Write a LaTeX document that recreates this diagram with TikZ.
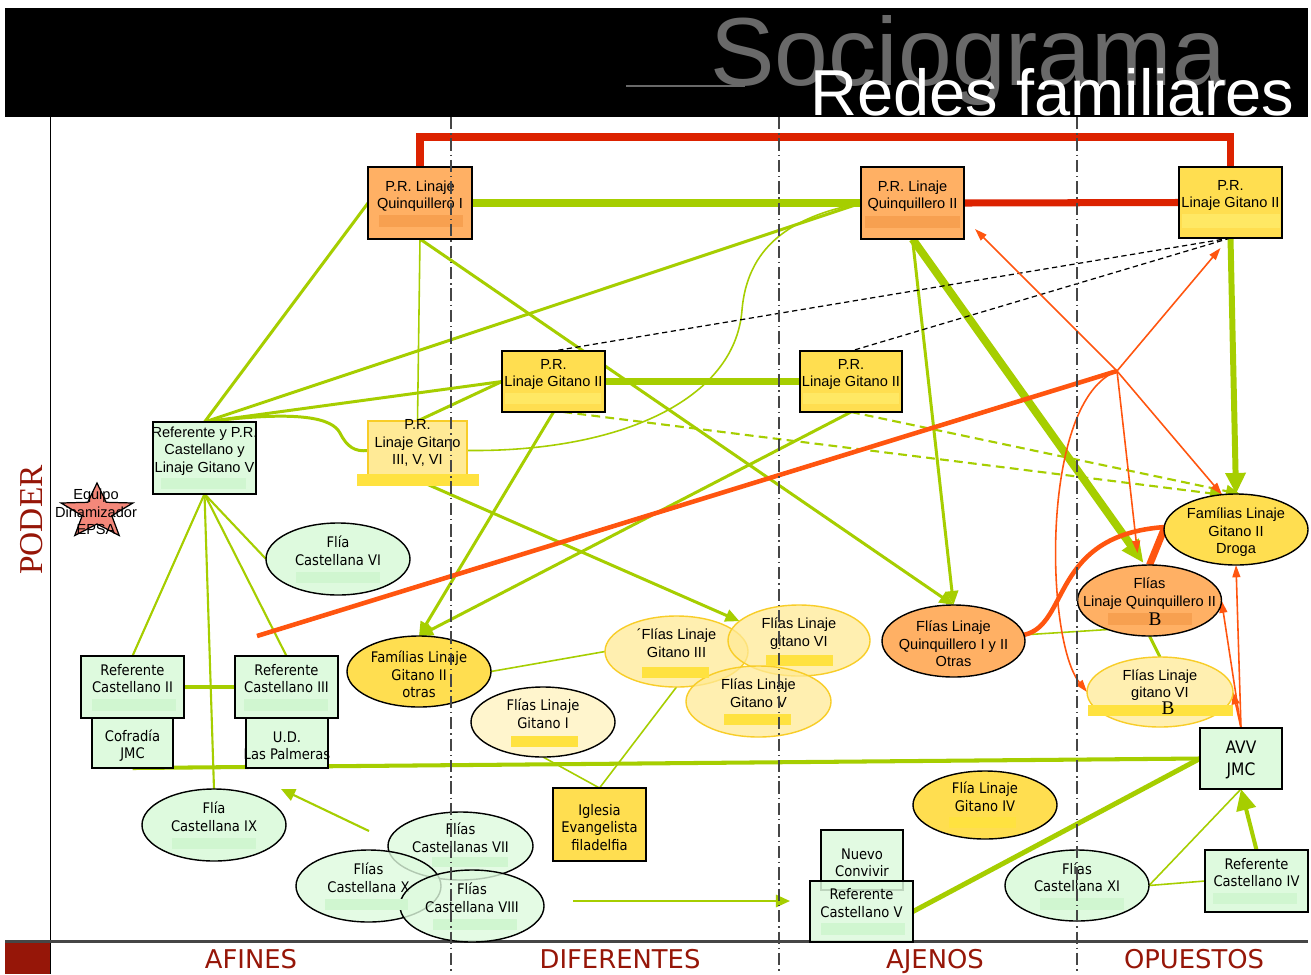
\documentclass[tikz,border=0pt]{standalone}
\usepackage{fontspec}
\setmainfont{Liberation Sans}
\newfontfamily\arialf{Liberation Sans}
\newfontfamily\tahf[FakeStretch=0.9]{DejaVu Sans}
\newfontfamily\dejaf{DejaVu Sans}
\newfontfamily\timesf{Liberation Serif}
\usetikzlibrary{arrows.meta,calc,shapes.geometric}
\pgfdeclarelayer{paper}
\pgfdeclarelayer{links}
\pgfsetlayers{paper,links,main}

\definecolor{lime}{RGB}{166,206,0}
\definecolor{redbar}{RGB}{220,34,0}
\definecolor{oline}{RGB}{255,85,15}
\definecolor{dred}{RGB}{150,22,8}
\definecolor{ofill}{RGB}{255,176,100}
\definecolor{opatch}{RGB}{247,160,80}
\definecolor{yfill}{RGB}{255,222,80}
\definecolor{ypatch}{RGB}{255,232,100}
\definecolor{pyfill}{RGB}{255,234,150}
\definecolor{pyborder}{RGB}{248,205,40}
\definecolor{bpatch}{RGB}{255,226,64}
\definecolor{cfill}{RGB}{255,245,205}
\definecolor{lgreen}{RGB}{222,250,222}
\definecolor{gpatch}{RGB}{208,246,208}
\definecolor{starfill}{RGB}{244,136,122}
\definecolor{titlegray}{RGB}{105,105,105}
\definecolor{axisgray}{RGB}{70,70,70}

% box: name, x1, y1, x2, y2, shape style, text style, text
\newcommand\boxnode[8]{%
  \pgfmathsetmacro\bwd{(#4-#2)*0.02}%
  \pgfmathsetmacro\bht{(#5-#3)*0.02}%
  \node[#6,minimum width=\bwd cm,minimum height=\bht cm] (#1) at ({(#2+#4)/2},{(#3+#5)/2}) {};%
  \node[#7] (#1-t) at (#1.center) {#8};}
% ellipse: name, cx, cy, rx, ry, shape style, text style, text
\newcommand\ellnode[8]{%
  \pgfmathsetmacro\ewd{2*#4*0.02}%
  \pgfmathsetmacro\eht{2*#5*0.02}%
  \node[ellipse,#6,minimum width=\ewd cm,minimum height=\eht cm] (#1) at (#2,#3) {};%
  \node[#7] (#1-t) at (#1.center) {#8};}
% masking strip over a hidden line
\newcommand\patch[5]{\fill[#1] (#2,#3) rectangle (#4,#5);}

\begin{document}
\begin{tikzpicture}[x=0.02cm,y=-0.02cm,
  shp/.style={draw=black,line width=0.8pt,inner sep=0pt,outer sep=0pt},
  obox/.style={shp,rectangle,fill=ofill},
  ybox/.style={shp,rectangle,fill=yfill},
  pybox/.style={shp,rectangle,draw=pyborder,fill=pyfill},
  gbox/.style={shp,rectangle,fill=lgreen},
  gboxt/.style={shp,rectangle,fill=lgreen,fill opacity=0.85},
  oell/.style={shp,fill=ofill},
  yell/.style={shp,fill=yfill},
  pell/.style={shp,draw=pyborder,fill=pyfill,fill opacity=0.75},
  cell/.style={shp,fill=cfill},
  gell/.style={shp,fill=lgreen},
  gellt/.style={shp,fill=lgreen,fill opacity=0.8},
  tA/.style={inner sep=0pt,align=center,yshift=-1.6pt,font=\arialf\fontsize{8.3}{9.9}\selectfont},
  tT/.style={inner sep=0pt,align=center,yshift=-1.6pt,font=\tahf\fontsize{8.3}{9.9}\selectfont},
  tBig/.style={inner sep=0pt,align=center,yshift=-0.8pt,font=\tahf\fontsize{9.8}{12}\selectfont},
  colname/.style={anchor=base,inner sep=0pt,text=dred,font=\dejaf\fontsize{14.7}{14.7}\selectfont},
  gthin/.style={draw=lime,line width=0.9pt},
  glight/.style={draw=lime,line width=1.2pt},
  gmed/.style={draw=lime,line width=1.7pt},
  gbold/.style={draw=lime,line width=2.3pt},
  gheavy/.style={draw=lime,line width=4pt},
  gtip/.style={-{Triangle[length=8pt,width=7pt]}},
  gbigtip/.style={-{Triangle[length=12pt,width=11pt]}},
  redline/.style={draw=redbar,line width=4pt,line join=miter},
  othin/.style={draw=oline,line width=0.9pt,-{Triangle[length=7pt,width=4.5pt]}},
  othick/.style={draw=oline,line width=2.6pt},
  dashdot/.style={draw=axisgray,line width=0.8pt,dash pattern=on 7pt off 2.2pt on 0.8pt off 2.2pt},
  blkdash/.style={draw=black,line width=0.7pt,dash pattern=on 3pt off 2pt},
  gdash/.style={draw=lime,line width=1.2pt,dash pattern=on 5pt off 3pt}]

\useasboundingbox (0,0) rectangle (1311,974);
\begin{pgfonlayer}{paper}
  \fill[white] (0,0) rectangle (1311,974);
\end{pgfonlayer}

% header band and title
\fill[black] (5,8) rectangle (1308,117);
\draw[titlegray,line width=1pt] (626,86) -- (745,86);
\node[anchor=base west,inner sep=0pt,text=titlegray,font=\arialf\fontsize{55}{55}\selectfont] (ttl) at (710,85) {Sociograma};
\node[anchor=base west,inner sep=0pt,text=white,font=\arialf\fontsize{37}{37}\selectfont] (sub) at (810,115) {Redes familiares};

% axes
\fill[dred] (5,941) rectangle (50,974);
\draw[black,line width=0.9pt] (50.5,117) -- (50.5,974);
\draw[axisgray,line width=1.3pt] (5,941.5) -- (1308,941.5);
\node[rotate=90,inner sep=0pt,text=dred,font=\timesf\fontsize{19}{19}\selectfont] (poder) at (32,520) {PODER};
\node[colname] (afines) at (251,968.5) {AFINES};
\node[colname] (difer) at (620,968.5) {DIFERENTES};
\node[colname] (ajenos) at (935,968.5) {AJENOS};
\node[colname] (opuest) at (1194,968.5) {OPUESTOS};

% star
\filldraw[fill=starfill,draw=black,line width=0.7pt] (97,483) -- (87.8,502.3) -- (61.1,503) -- (82.2,515.7) -- (74.8,535.5) -- (97,524) -- (119.2,535.5) -- (111.8,515.7) -- (132.9,503) -- (106.2,502.3) -- cycle;
\node[tA,yshift=1pt] (epsa) at (96,511) {Equipo\\Dinamizador\\EPSA};

% boxes
\boxnode{prq1}{368}{167}{472}{239}{obox}{tA}{P.R. Linaje\\Quinquillero I\\\strut}
\boxnode{prq2}{861}{167}{964}{239}{obox}{tA}{P.R. Linaje\\Quinquillero II\\\strut}
\boxnode{prg2t}{1179}{167}{1282}{238}{ybox}{tA}{P.R.\\Linaje Gitano II\\\strut}
\boxnode{prg2a}{502}{351}{605}{412}{ybox}{tA}{P.R.\\Linaje Gitano II\\\strut}
\boxnode{prg2b}{800}{351}{902}{412}{ybox}{tA}{P.R.\\Linaje Gitano II\\\strut}
\boxnode{prg356}{368}{421}{467}{480}{pybox}{tA}{P.R.\\Linaje Gitano\\III, V, VI\\\strut}
\boxnode{refpr}{153}{422}{256}{494}{gbox}{tA}{Referente y P.R.\\Castellano y\\Linaje Gitano V\\\strut}
\boxnode{rc2}{81}{656}{184}{718}{gbox}{tT}{Referente\\Castellano II\\\strut}
\boxnode{rc3}{235}{656}{338}{718}{gbox}{tT}{Referente\\Castellano III\\\strut}
\boxnode{cof}{92}{718}{173}{768}{gbox}{tT}{Cofradía\\JMC}
\boxnode{ud}{246}{718}{328}{768}{gbox}{tT}{U.D.\\Las Palmeras}
\boxnode{avv}{1200}{728}{1282}{789}{gbox}{tBig}{AVV\\JMC}
\boxnode{rciv}{1205}{850}{1308}{912}{gbox}{tT}{Referente\\Castellano IV\\\strut}
\boxnode{nconv}{821}{830}{903}{890}{gboxt}{tT}{Nuevo\\Convivir}
\boxnode{rcv}{810}{881}{913}{942}{gboxt}{tT}{Referente\\Castellano V\\\strut}
\boxnode{igl}{553}{788}{646}{861}{ybox}{tT}{Iglesia\\Evangelista\\filadelfia}

% ellipses
\ellnode{cvi}{338}{559}{72}{36}{gell}{tT}{Flía\\Castellana VI\\\strut}
\ellnode{fam2o}{419}{671.5}{72}{35.5}{yell}{tT}{Famílias Linaje\\Gitano II\\otras}
\ellnode{gi}{543}{722}{72}{35}{cell}{tT}{Flías Linaje\\Gitano I\\\strut}
\ellnode{giii}{676.5}{651.5}{71.5}{35.5}{pell}{tA}{´Flías Linaje\\Gitano III\\\strut}
\ellnode{gvi}{799}{640.5}{71}{35.5}{pell}{tA}{Flías Linaje\\gitano VI\\\strut}
\ellnode{gv}{758.5}{701.5}{72.5}{35.5}{pell}{tA}{Flías Linaje\\Gitano V\\\strut}
\ellnode{qi12}{953.5}{641}{71.5}{36}{oell}{tA}{Flías Linaje\\Quinquillero I y II\\Otras}
\ellnode{droga}{1236}{529.5}{72}{35.5}{yell}{tA}{Famílias Linaje\\Gitano II\\Droga}
\ellnode{qiib}{1149.5}{600.5}{72}{35.5}{oell}{tA}{Flías\\Linaje Quinquillero II\\\strut}
\ellnode{gvib}{1160}{692}{73}{35}{pell}{tA}{Flías Linaje\\gitano VI\\\strut}
\ellnode{giv}{985}{805}{72}{34}{yell}{tT}{Flía Linaje\\Gitano IV\\\strut}
\ellnode{cxi}{1077}{885.5}{72}{35.5}{gell}{tT}{Flías\\Castellana XI\\\strut}
\ellnode{cix}{214}{825}{72}{36}{gell}{tT}{Flía\\Castellana IX\\\strut}
\ellnode{cvii}{460.5}{846}{72.5}{34}{gellt}{tT}{Flías\\Castellanas VII\\\strut}
\ellnode{cx}{368.5}{886}{72.5}{36}{gellt}{tT}{Flías\\Castellana X\\\strut}
\ellnode{cviii}{472}{906}{72}{36}{gellt}{tT}{Flías\\Castellana VIII\\\strut}

% free ends and hub of the orange links
\coordinate (hub) at (1117,371);
\coordinate (ostart) at (257,636);
\coordinate (fa1s) at (369,831);
\coordinate (fa1e) at (281,789);
\coordinate (fa2s) at (573,901);
\coordinate (fa2e) at (790,901);

\begin{pgfonlayer}{links}
  % red ties
  \draw[redline] (prq1.north) -- ++(0,-30) -| (prg2t.north);
  \draw[redline] (prq2.east) -- (prg2t.west);
  % heavy green ties
  \draw[gheavy] (prq1.east) -- (prq2.west);
  \draw[gheavy,line width=4.5pt] (prg2a.east) -- (prg2b.west);
  \draw[gheavy,line width=4.5pt,-{Triangle[length=13pt,width=11pt]}] (prq2.south) -- ($(qiib.north)+(-6,-2)$);
  \draw[gheavy,line width=3.4pt,gbigtip] (prg2t.south) -- (droga.north);
  % links of the Referente y P.R. box
  \draw[gmed] (prq1.west) -- (refpr.north);
  \draw[gmed] (refpr.north) -- (prq2.west);
  \draw[gmed] (refpr.north) -- (prg2a.west);
  \draw[gmed] (refpr.north) .. controls (300,410) and (332,418) .. (340,433) .. controls (347,447) and (355,452) .. (prg356.west);
  \draw[glight] (refpr.south) -- (rc2.north);
  \draw[glight] (refpr.south) -- (cix.north);
  \draw[glight] (refpr.south) -- (rc3.north);
  \draw[glight] (refpr.south) -- (cvi.west);
  % P.R. Linaje Gitano III, V, VI
  \draw[gthin] (prq1.south) -- (prg356.north);
  \draw[gmed] (prg2a.west) -- (prg356.north);
  \draw[gthin] (prg356.east) .. controls (620,452) and (735,400) .. (742,310) .. controls (748,240) and (800,215) .. (prq2.west);
  \draw[gmed,gtip] (prg356.south) -- (gvi.162);
  % arrows to the families
  \draw[gmed,gtip] (prg2a.south) -- (fam2o.north);
  \draw[gmed,gtip] (prg2b.south) -- (fam2o.north);
  \draw[gmed,gtip] (prq1.south) -- (qi12.north);
  \draw[gmed,gtip] (prq2.south) -- (qi12.north);
  \draw[gdash,gtip] ($(prg2a.south)+(10,0)$) -- ($(droga.north)+(-12,1)$);
  \draw[gdash,gtip] (prg2b.south) -- ($(droga.north)+(4,0)$);
  \draw[gthin] (fam2o.east) -- (giii.west);
  \draw[gthin] (gi.south) -- (igl.north);
  \draw[gthin] (giii.south) -- (igl.north);
  \draw[gthin] (qi12.5) -- (qiib.215);
  \draw[gmed] (qiib.south) -- (gvib.north);
  % black dashed
  \draw[blkdash] (prg2t.south) -- (prg2a.north);
  \draw[blkdash] (prg2t.south) -- (prg2b.north);
  % lower links
  \draw[gbold] (rc2.east) -- (rc3.west);
  \draw[gbold] (cof.south) -- (avv.west);
  \draw[gbold,line width=2.8pt] (rcv.east) -- (avv.west);
  \draw[gbold,gbigtip] (rciv.north) -- (avv.south);
  \draw[gthin] (cxi.east) -- (avv.south);
  \draw[gthin] (cxi.east) -- (rciv.west);
  \draw[glight,gtip] (fa1s) -- (fa1e);
  \draw[glight,gtip] (fa2s) -- (fa2e);
  % orange links
  \draw[othick] (ostart) -- (hub);
  \draw[othin] (hub) -- ($(prq2.south east)+(11,-10)$);
  \draw[othin] (hub) -- ($(prg2t.south)+(-10,10)$);
  \draw[othin] (hub) -- (droga.112);
  \draw[othin] (hub) -- ($(qiib.north)+(-12,-12)$);
  \draw[othin] (hub) .. controls (1040,400) and (1045,640) .. (gvib.west);
  \draw[othin] (avv.north) -- (droga.south);
  \draw[othin] (avv.north) -- (qiib.east);
  \draw[othin] (avv.north) -- (gvib.east);
  \draw[othick] (qi12.5) .. controls (1070,625) and (1050,535) .. (1165,527);
  \draw[draw=oline,line width=4pt] (1165,527) -- (qiib.north);
\end{pgfonlayer}

% masked lines
\patch{opatch}{379}{215}{463}{227}
\patch{opatch}{865}{216}{960}{228}
\patch{ypatch}{1182}{214}{1280}{228}
\patch{ypatch}{505}{393}{601}{404}
\patch{ypatch}{803}{393}{899}{404}
\patch{bpatch}{357}{474}{479}{486}
\patch{gpatch}{161}{478}{246}{489}
\patch{gpatch}{92}{699}{176}{711}
\patch{gpatch}{244}{699}{328}{711}
\patch{gpatch}{1213}{893}{1297}{904}
\patch{gpatch}{821}{923}{905}{935}
\patch{gpatch}{1040}{898}{1124}{910}
\patch{gpatch}{432}{857}{508}{867}
\patch{gpatch}{325}{899}{408}{910}
\patch{gpatch}{433}{919}{517}{930}
\patch{gpatch}{172}{838}{256}{849}
\patch{gpatch}{296}{572}{380}{583}
\patch{bpatch}{949}{817}{1016}{828}
\patch{bpatch}{511}{736}{578}{747}
\patch{bpatch}{642}{667}{709}{678}
\patch{bpatch}{766}{655}{833}{666}
\patch{bpatch}{724}{714}{791}{725}
\patch{opatch}{1108}{613}{1192}{625}
\patch{bpatch}{1088}{705}{1233}{716}
\node[inner sep=0pt,font=\timesf\fontsize{11}{11}\selectfont] (bq) at (1155,619) {B};
\node[inner sep=0pt,font=\timesf\fontsize{11}{11}\selectfont] (bg) at (1168,708) {B};

% column separators
\foreach \xx in {451,779,1077} \draw[dashdot] (\xx,117) -- (\xx,974);
\end{tikzpicture}
\end{document}
